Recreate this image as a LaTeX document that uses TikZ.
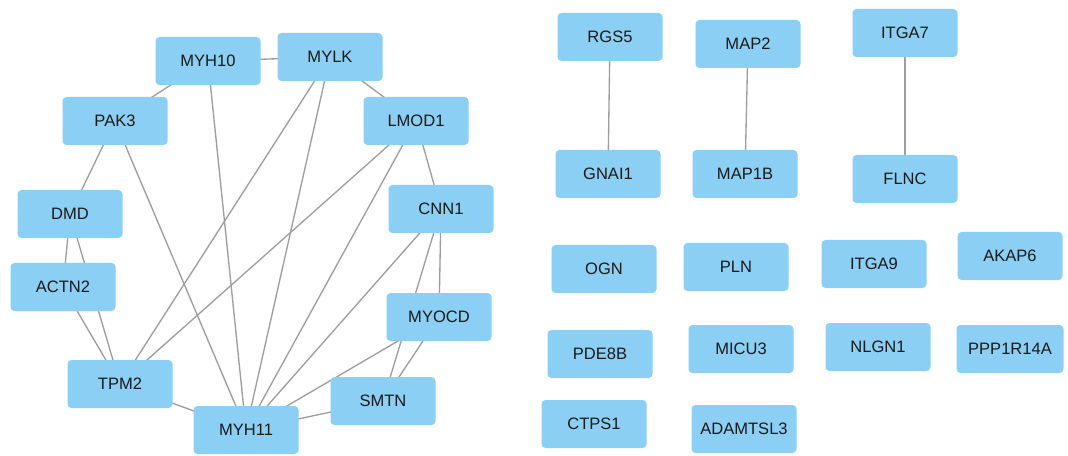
\documentclass[tikz,border=0pt]{standalone}
\usepackage{fontspec}
\setmainfont{Liberation Sans}
\usetikzlibrary{backgrounds}
\definecolor{boxfill}{HTML}{8CCFF5}
\definecolor{edgegray}{HTML}{9E9E9E}
\definecolor{labeltext}{HTML}{1A1A1A}
\begin{document}
\begin{tikzpicture}[x=0.75pt,y=-0.75pt,
  gene/.style={rectangle,rounded corners=3pt,fill=boxfill,draw=none,
    minimum width=78.75pt,minimum height=36pt,inner sep=0pt,
    font=\fontsize{12.4}{14}\selectfont,text=labeltext},
  link/.style={draw=edgegray,line width=1pt}]
\useasboundingbox (0,0) rectangle (1068,456);
% left cluster
\node[gene] (MYH10) at (208,61) {MYH10};
\node[gene] (MYLK) at (330,57) {MYLK};
\node[gene] (PAK3) at (115,121) {PAK3};
\node[gene] (LMOD1) at (416,121) {LMOD1};
\node[gene] (DMD) at (70,214) {DMD};
\node[gene] (CNN1) at (441,209) {CNN1};
\node[gene] (ACTN2) at (63,287) {ACTN2};
\node[gene] (MYOCD) at (439,317) {MYOCD};
\node[gene] (TPM2) at (120,384) {TPM2};
\node[gene] (SMTN) at (383,401) {SMTN};
\node[gene] (MYH11) at (246,430) {MYH11};
% right part
\node[gene] (RGS5) at (610,37) {RGS5};
\node[gene] (MAP2) at (748,44) {MAP2};
\node[gene] (ITGA7) at (905,33) {ITGA7};
\node[gene] (GNAI1) at (608,174) {GNAI1};
\node[gene] (MAP1B) at (745,174) {MAP1B};
\node[gene] (FLNC) at (905,179) {FLNC};
\node[gene] (OGN) at (604,269) {OGN};
\node[gene] (PLN) at (736,267) {PLN};
\node[gene] (ITGA9) at (874,264) {ITGA9};
\node[gene] (AKAP6) at (1010,256) {AKAP6};
\node[gene] (PDE8B) at (600,354) {PDE8B};
\node[gene] (MICU3) at (741,349) {MICU3};
\node[gene] (NLGN1) at (878,347) {NLGN1};
\node[gene,minimum width=80.25pt] (PPP1R14A) at (1010,349) {PPP1R14A};
\node[gene] (CTPS1) at (594,424) {CTPS1};
\node[gene] (ADAMTSL3) at (744,429) {ADAMTSL3};
% edges behind nodes
\begin{scope}[on background layer]
\fill[white] (0,0) rectangle (1068,456);
\draw[link] (MYH10.center) -- (MYLK.center);
\draw[link] (MYH10.center) -- (PAK3.center);
\draw[link] (MYH10.center) -- (MYH11.center);
\draw[link] (MYLK.center) -- (LMOD1.center);
\draw[link] (MYLK.center) -- (TPM2.center);
\draw[link] (MYLK.center) -- (MYH11.center);
\draw[link] (PAK3.center) -- (DMD.center);
\draw[link] (PAK3.center) -- (MYH11.center);
\draw[link] (LMOD1.center) -- (CNN1.center);
\draw[link] (LMOD1.center) -- (TPM2.center);
\draw[link] (LMOD1.center) -- (MYH11.center);
\draw[link] (DMD.center) -- (ACTN2.center);
\draw[link] (DMD.center) -- (TPM2.center);
\draw[link] (ACTN2.center) -- (TPM2.center);
\draw[link] (CNN1.center) -- (MYOCD.center);
\draw[link] (CNN1.center) -- (SMTN.center);
\draw[link] (CNN1.center) -- (MYH11.center);
\draw[link] (MYOCD.center) -- (SMTN.center);
\draw[link] (MYOCD.center) -- (MYH11.center);
\draw[link] (TPM2.center) -- (MYH11.center);
\draw[link] (SMTN.center) -- (MYH11.center);
\draw[link] (RGS5.center) -- (GNAI1.center);
\draw[link] (MAP2.center) -- (MAP1B.center);
\draw[link] (ITGA7.center) -- (FLNC.center);
\end{scope}
\end{tikzpicture}
\end{document}
